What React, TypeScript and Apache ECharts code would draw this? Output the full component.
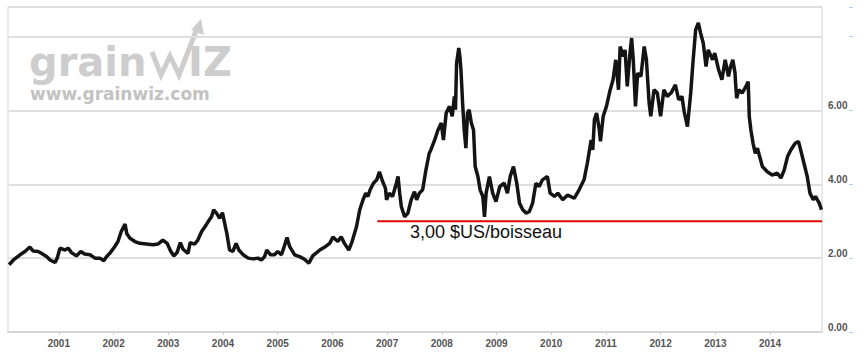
import { useEffect, useRef } from 'react';
import * as echarts from 'echarts';

// Decimal years and corn price ($US / bushel)
const years = [
  2000.09, 2000.17, 2000.29, 2000.38, 2000.47, 2000.53, 2000.62, 2000.68, 2000.78, 2000.84, 2000.93, 2000.97,
  2001.02, 2001.11, 2001.17, 2001.23, 2001.32, 2001.40, 2001.47, 2001.57, 2001.66, 2001.75, 2001.82, 2001.87, 2001.93,
  2002.02, 2002.08, 2002.14, 2002.21, 2002.24, 2002.30, 2002.39, 2002.48, 2002.60, 2002.72, 2002.81, 2002.90, 2002.98,
  2003.04, 2003.10, 2003.16, 2003.22, 2003.27, 2003.36, 2003.40, 2003.48, 2003.54, 2003.61, 2003.67, 2003.73, 2003.79, 2003.83, 2003.89, 2003.94, 2003.99,
  2004.03, 2004.07, 2004.12, 2004.18, 2004.24, 2004.29, 2004.37, 2004.46, 2004.55, 2004.64, 2004.70, 2004.76, 2004.80, 2004.87, 2004.94,
  2005.00, 2005.07, 2005.11, 2005.17, 2005.22, 2005.31, 2005.40, 2005.49, 2005.57, 2005.64, 2005.77, 2005.86, 2005.95,
  2006.01, 2006.10, 2006.16, 2006.22, 2006.30, 2006.36, 2006.44, 2006.50, 2006.56, 2006.61, 2006.65, 2006.69, 2006.75, 2006.81, 2006.86, 2006.92, 2006.97, 2006.99,
  2007.04, 2007.10, 2007.17, 2007.20, 2007.23, 2007.26, 2007.32, 2007.38, 2007.44, 2007.50, 2007.54, 2007.59, 2007.65, 2007.71, 2007.77, 2007.80, 2007.87, 2007.93, 2007.99,
  2008.03, 2008.08, 2008.14, 2008.19, 2008.23, 2008.25, 2008.27, 2008.31, 2008.33, 2008.35, 2008.38, 2008.41, 2008.44, 2008.47, 2008.50, 2008.54, 2008.58, 2008.61, 2008.66, 2008.70, 2008.75, 2008.78, 2008.81, 2008.87, 2008.93, 2008.99,
  2009.06, 2009.14, 2009.20, 2009.25, 2009.31, 2009.37, 2009.42, 2009.48, 2009.54, 2009.60, 2009.66, 2009.72, 2009.78, 2009.84, 2009.93, 2009.98,
  2010.06, 2010.12, 2010.21, 2010.30, 2010.42, 2010.51, 2010.60, 2010.66, 2010.73, 2010.76, 2010.79, 2010.83, 2010.88, 2010.90, 2010.95,
  2011.01, 2011.07, 2011.13, 2011.18, 2011.23, 2011.26, 2011.32, 2011.35, 2011.39, 2011.44, 2011.47, 2011.50, 2011.54, 2011.58, 2011.64, 2011.70, 2011.74, 2011.79, 2011.82, 2011.88, 2011.94,
  2012.00, 2012.06, 2012.12, 2012.19, 2012.27, 2012.33, 2012.39, 2012.43, 2012.49, 2012.55, 2012.59, 2012.64, 2012.69, 2012.73, 2012.78, 2012.83, 2012.87, 2012.95, 2012.99,
  2013.06, 2013.12, 2013.18, 2013.24, 2013.28, 2013.32, 2013.36, 2013.37, 2013.39, 2013.43, 2013.49, 2013.56, 2013.60, 2013.61, 2013.62, 2013.65, 2013.69, 2013.73, 2013.77, 2013.81, 2013.86, 2013.95,
  2014.04, 2014.13, 2014.20, 2014.26, 2014.32, 2014.38, 2014.46, 2014.52, 2014.56, 2014.62, 2014.68, 2014.73, 2014.79, 2014.83, 2014.90, 2014.94,
];
const prices = [
  1.82, 1.95, 2.09, 2.18, 2.30, 2.19, 2.18, 2.13, 2.04, 1.95, 1.88, 2.00,
  2.27, 2.22, 2.27, 2.15, 2.06, 2.18, 2.11, 2.09, 2.00, 2.00, 1.93, 2.04, 2.13,
  2.31, 2.45, 2.72, 2.92, 2.67, 2.54, 2.45, 2.40, 2.38, 2.36, 2.38, 2.49, 2.40,
  2.20, 2.06, 2.15, 2.42, 2.24, 2.13, 2.42, 2.38, 2.49, 2.72, 2.85, 2.99, 3.12, 3.31, 3.20, 3.08, 3.23,
  2.95, 2.67, 2.22, 2.18, 2.40, 2.22, 2.09, 2.00, 1.98, 2.00, 1.95, 2.04, 2.22, 2.09, 2.09,
  2.18, 2.09, 2.27, 2.56, 2.31, 2.09, 2.04, 1.97, 1.86, 2.06, 2.22, 2.30, 2.40,
  2.57, 2.45, 2.58, 2.40, 2.22, 2.45, 2.85, 3.31, 3.58, 3.76, 3.67, 3.85, 4.03, 4.12, 4.34, 4.07, 3.89, 3.58,
  3.76, 3.67, 4.03, 4.21, 3.76, 3.40, 3.12, 3.22, 3.58, 3.80, 3.58, 3.76, 3.85, 4.39, 4.84, 4.93, 5.20, 5.47, 5.66,
  5.20, 5.93, 6.11, 5.84, 6.38, 6.02, 7.28, 7.69, 7.46, 7.10, 6.20, 5.47, 4.98, 5.93, 6.02, 5.66, 5.47, 4.48, 4.21, 3.85, 3.67, 3.12, 3.76, 4.21, 3.76, 3.53,
  3.94, 4.03, 3.76, 4.21, 4.48, 4.03, 3.49, 3.31, 3.22, 3.26, 3.49, 4.03, 3.94, 4.12, 4.21, 3.76,
  3.67, 3.76, 3.58, 3.71, 3.62, 3.85, 4.12, 4.57, 5.20, 4.93, 5.75, 5.93, 5.47, 5.16, 5.84,
  6.11, 6.51, 6.83, 7.37, 6.56, 7.73, 7.46, 7.64, 6.65, 7.55, 7.96, 7.37, 6.11, 7.01, 6.92, 7.73, 7.37, 6.20, 5.84, 6.56, 6.47,
  5.84, 6.56, 6.38, 6.47, 6.69, 6.29, 6.38, 5.97, 5.56, 6.47, 7.28, 8.18, 8.37, 8.10, 7.82, 7.19, 7.64, 7.37, 7.55,
  7.10, 6.83, 7.37, 6.92, 7.19, 7.37, 7.01, 6.74, 6.33, 6.56, 6.47, 6.65, 6.78, 6.38, 5.84, 5.47, 5.11, 4.84, 4.98, 4.75, 4.48, 4.34,
  4.25, 4.30, 4.17, 4.39, 4.75, 4.93, 5.11, 5.16, 4.93, 4.57, 4.21, 3.76, 3.58, 3.67, 3.49, 3.31,
];

const supportYears = [2006.82, 2014.95];
const supportPrice = 3.0;
const supportLabel = '3,00 $US/boisseau';
const yAxisLabels = ['0.00', '2.00', '4.00', '6.00'];
const xRange = [2000.07, 2014.95];
const yRange = [0, 8.8];

export default function App() {
  const ref = useRef<HTMLDivElement>(null);
  useEffect(() => {
    const chart = echarts.init(ref.current!, null, { renderer: 'svg' });
    const lineData = years.map((y, i) => [y, prices[i]]);
    chart.setOption({
      animation: false,
      backgroundColor: '#ffffff',
      grid: {
        left: 8,
        top: 7,
        right: 44,
        bottom: 24,
        show: true,
        borderColor: '#d4d4d4',
        borderWidth: 1,
      },
      xAxis: {
        type: 'value',
        min: xRange[0],
        max: xRange[1],
        splitNumber: 15,
        splitLine: { show: false },
        axisLine: { show: true, lineStyle: { color: '#d4d4d4', width: 2 } },
        axisTick: { show: true, length: 3, lineStyle: { color: '#cfcfcf' } },
        axisLabel: {
          color: '#555',
          fontSize: 10,
          fontWeight: 'bold',
          fontFamily: 'Liberation Sans, Arial, sans-serif',
          margin: 6,
          showMinLabel: false,
          showMaxLabel: false,
          formatter: (v: number) => (Math.abs(v - Math.round(v)) < 1e-6 ? String(Math.round(v)) : ''),
        },
      },
      yAxis: [
        {
          type: 'value',
          position: 'right',
          min: yRange[0],
          max: yRange[1],
          interval: 2,
          splitLine: { show: true, lineStyle: { color: '#dedede', width: 2 } },
          axisLine: { show: false },
          axisTick: { show: false },
          axisLabel: {
            color: '#555',
            fontSize: 10,
            fontWeight: 'bold',
            fontFamily: 'Liberation Sans, Arial, sans-serif',
            margin: 6,
            verticalAlign: 'bottom',
            showMaxLabel: false,
            formatter: (v: number) => {
              const s = v.toFixed(2);
              return yAxisLabels.includes(s) ? s : '';
            },
          },
        },
        {
          type: 'value',
          position: 'right',
          offset: 27,
          min: yRange[0],
          max: yRange[1],
          interval: 2,
          splitLine: { show: false },
          axisLine: { show: false },
          axisTick: { show: true, length: 4, inside: false, lineStyle: { color: '#b8cce4' } },
          axisLabel: { show: false },
        },
      ],
      series: [
        {
          type: 'line',
          data: lineData,
          showSymbol: false,
          lineStyle: { color: '#141414', width: 3.5 },
          z: 3,
        },
        {
          type: 'line',
          data: supportYears.map((y) => [y, supportPrice]),
          showSymbol: false,
          lineStyle: { color: '#e00000', width: 2 },
          z: 4,
        },
      ],
      graphic: [
        {
          type: 'text',
          style: {
            text: 'grain',
            x: 29,
            y: 62,
            fontSize: 40,
            fontWeight: 'bold',
            fontFamily: 'DejaVu Sans',
            fill: '#cdcdcd',
            textVerticalAlign: 'middle',
            verticalAlign: 'middle',
          },
        },
        {
          type: 'polyline',
          shape: { points: [[152, 52], [161, 75], [170, 56], [179, 75], [198, 26]] },
          style: { stroke: '#cdcdcd', lineWidth: 5, fill: null },
        },
        {
          type: 'polygon',
          shape: { points: [[191, 30], [201, 19], [204, 35]] },
          style: { fill: '#cdcdcd' },
        },
        {
          type: 'text',
          style: {
            text: 'IZ',
            x: 188,
            y: 62,
            fontSize: 40,
            fontWeight: 'bold',
            fontFamily: 'DejaVu Sans',
            fill: '#cdcdcd',
            textVerticalAlign: 'middle',
            verticalAlign: 'middle',
          },
        },
        {
          type: 'text',
          style: {
            text: 'www.grainwiz.com',
            x: 30,
            y: 94,
            fontSize: 17,
            fontWeight: 'bold',
            fontFamily: 'DejaVu Sans',
            fill: '#c2c2c2',
            textVerticalAlign: 'middle',
            verticalAlign: 'middle',
          },
        },
        {
          type: 'text',
          style: {
            text: supportLabel,
            x: 410,
            y: 232,
            fontSize: 18,
            fontFamily: 'Liberation Sans, Arial, sans-serif',
            fill: '#111',
            textVerticalAlign: 'middle',
            verticalAlign: 'middle',
          },
          z: 10,
        },
      ],
    });
    return () => chart.dispose();
  }, []);
  return (
    <div
      ref={ref}
      style={{ position: 'absolute', left: 0, top: 0, width: 866, height: 356, background: '#fff' }}
    />
  );
}
